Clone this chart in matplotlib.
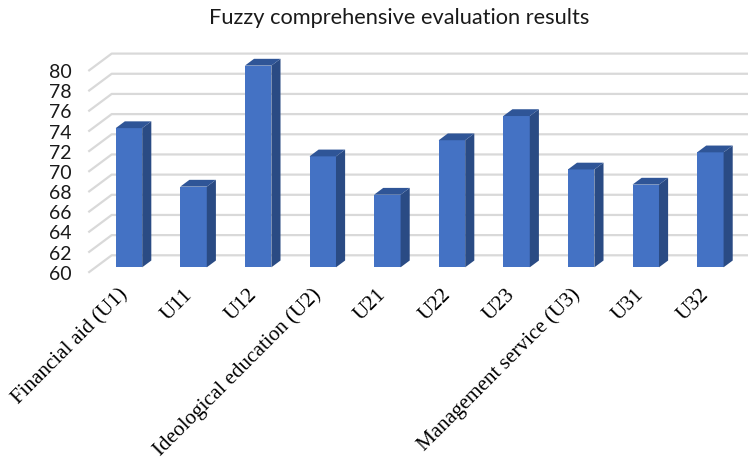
import matplotlib
matplotlib.use("Agg")
import matplotlib.pyplot as plt
from matplotlib.patches import Polygon
import matplotlib.transforms as mtransforms

# Data
categories = ["Financial aid (U1)", "U11", "U12", "Ideological education (U2)", "U21",
              "U22", "U23", "Management service (U3)", "U31", "U32"]
scores = [73.8, 68.0, 80.0, 71.0, 67.2, 72.6, 75.0, 69.7, 68.2, 71.4]
y_ticks = list(range(60, 81, 2))
title = "Fuzzy comprehensive evaluation results"

# Styling
FRONT = "#4472C4"
SIDE = "#2A4B84"
TOP = "#2F5597"
GRID = "#D9D9D9"

W, H = 748, 461
fig = plt.figure(figsize=(W / 100, H / 100), dpi=100)

# axes placed so that the front floor edge sits at y=60 and the floor's left corner at x=-0.517
left_px, right_px = 88.3, 748
bottom_px, top_px = 272.7, 71.0
ax = fig.add_axes([left_px / W, 1 - bottom_px / H,
                   (right_px - left_px) / W, (bottom_px - top_px) / H])
x_lo = -0.517
ax.set_xlim(x_lo, x_lo + (right_px - left_px) / 64.6)
ax.set_ylim(60, 80)
for s in ax.spines.values():
    s.set_visible(False)

# oblique depth vector (data units) for the 3D look
DX, DY = 0.362, 1.726
f0, f1 = 0.31, 0.70       # bar front / back positions along the depth
bw = 0.41                 # bar width (category units)
base = y_ticks[0]

# gridlines: slanted floor segment then across the back wall
x_end = ax.get_xlim()[1] + 1
for v in y_ticks:
    ax.plot([x_lo, x_lo + DX, x_end], [v, v + DY, v + DY], color=GRID, lw=1.6,
            solid_capstyle="butt", zorder=1, clip_on=False)

# 3D-looking bars
for i, v in enumerate(scores):
    xl = i - bw / 2 + f0 * DX
    xr = i + bw / 2 + f0 * DX
    yb = base + f0 * DY
    yt = v + f0 * DY
    ddx, ddy = (f1 - f0) * DX, (f1 - f0) * DY
    front = Polygon([(xl, yb), (xr, yb), (xr, yt), (xl, yt)], closed=True,
                    facecolor=FRONT, edgecolor="none", zorder=3)
    side = Polygon([(xr, yb), (xr + ddx, yb + ddy), (xr + ddx, yt + ddy), (xr, yt)],
                   closed=True, facecolor=SIDE, edgecolor="none", zorder=3)
    top = Polygon([(xl, yt), (xr, yt), (xr + ddx, yt + ddy), (xl + ddx, yt + ddy)],
                  closed=True, facecolor=TOP, edgecolor="none", zorder=3)
    for p in (front, side, top):
        p.set_clip_on(False)
        ax.add_patch(p)

# y axis labels
ax.set_yticks(y_ticks)
ax.set_yticklabels([str(t) for t in y_ticks], family="Lato", fontsize=14, color="#1a1a1a")
ax.tick_params(axis="y", length=0, pad=12)

# x axis labels (rotated, serif)
ax.set_xticks(range(len(categories)))
ax.set_xticklabels(categories, rotation=45, ha="right", va="center",
                   rotation_mode="anchor", family="Liberation Serif", fontsize=15.2)
ax.tick_params(axis="x", length=0, pad=14)
offset = mtransforms.ScaledTranslation(3 / 100, 0, fig.dpi_scale_trans)
for lab in ax.get_xticklabels():
    lab.set_transform(lab.get_transform() + offset)

fig.text(399 / W, 1 - 18 / H, title, ha="center", va="center",
         family="Lato", fontsize=15.7, color="#1a1a1a")

fig.savefig("out.png", dpi=100)
